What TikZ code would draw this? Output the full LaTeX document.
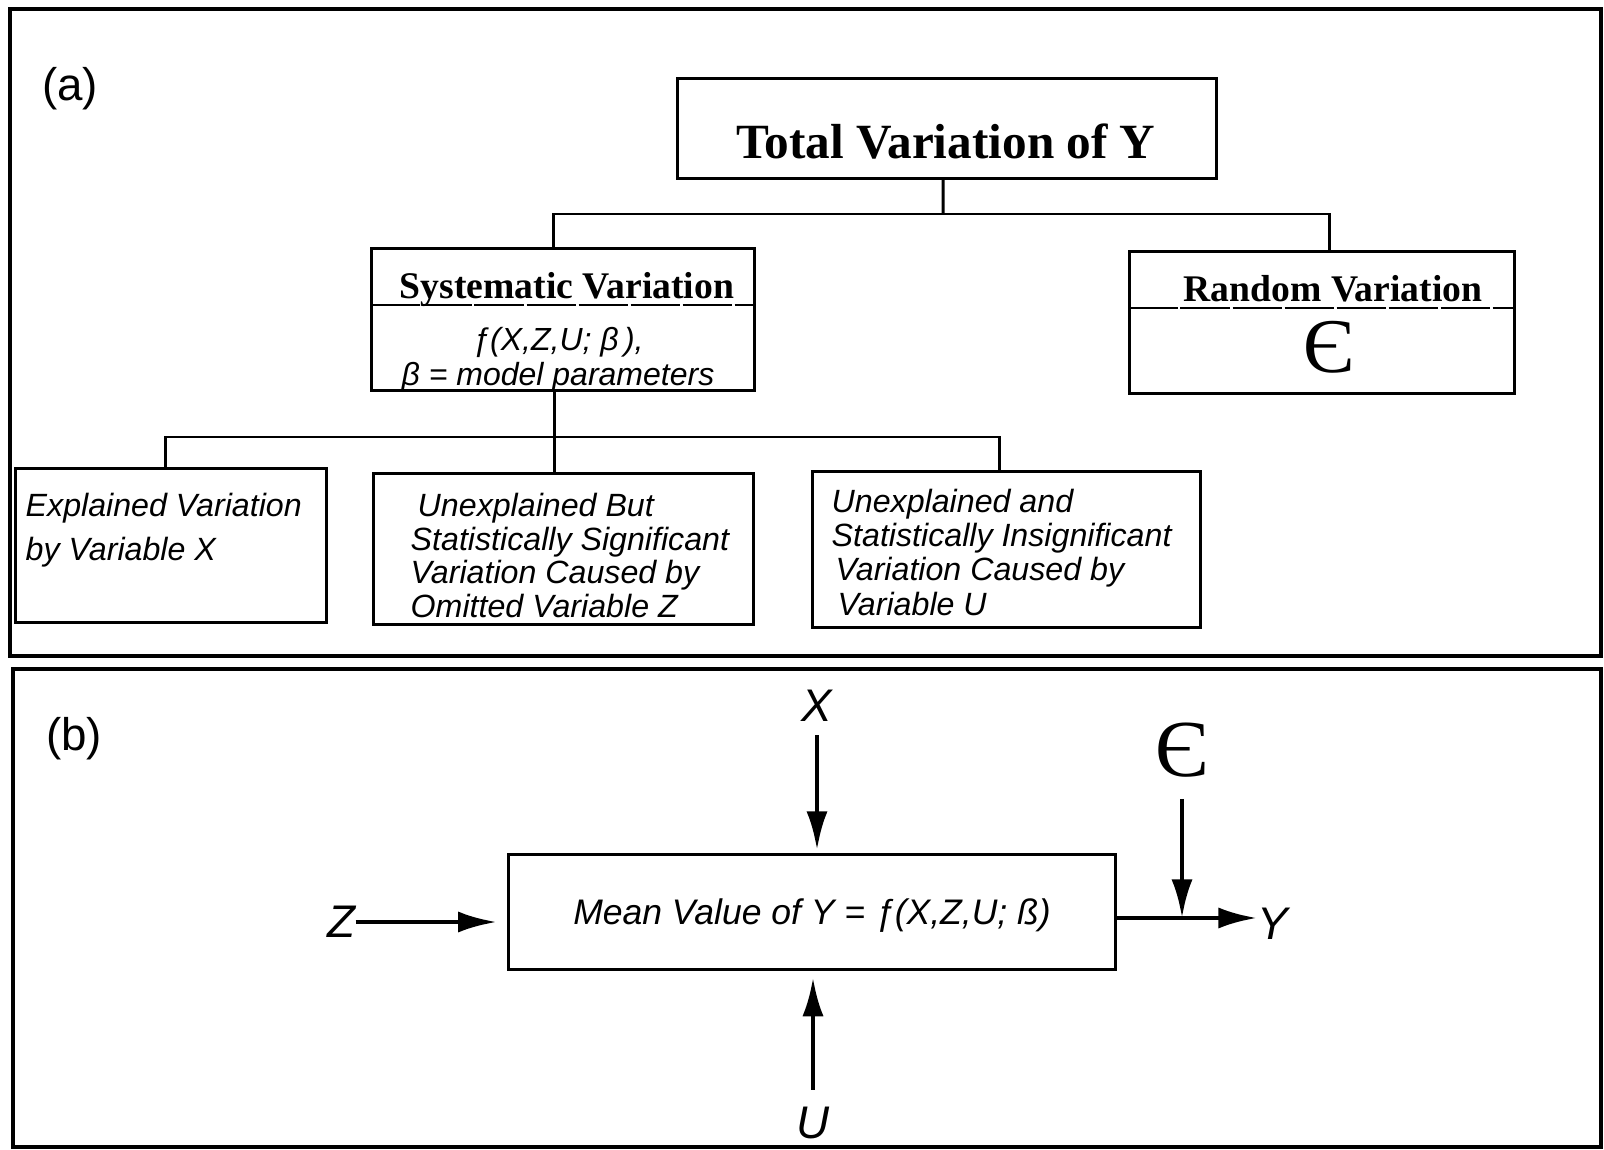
\documentclass[tikz,border=0pt]{standalone}
\usepackage{fontspec}
\setmainfont{Liberation Serif}
\setsansfont{Liberation Sans}
\usetikzlibrary{arrows.meta}
\tikzset{%
    panel/.style={line width=1.4pt},
    box/.style={draw, line width=0.85pt, inner sep=0pt},
    link/.style={line width=0.85pt},
    divider/.style={line width=0.5pt, dash pattern=on 14pt off 0.8pt},
    headtext/.style={font=\fontsize{10.7}{12}\selectfont\bfseries, inner sep=0pt, anchor=base},
    note/.style={font=\sffamily\itshape\fontsize{9.15}{9.5}\selectfont, align=left, inner sep=0pt, anchor=base west},
    varlabel/.style={font=\sffamily\itshape\fontsize{13}{15}\selectfont, inner sep=0pt},
    partlabel/.style={font=\sffamily\fontsize{13}{15}\selectfont, inner sep=0pt},
    flow/.style={line width=1.3pt, -{Latex[length=11pt,width=6pt]}}
}

\begin{document}
\begin{tikzpicture}[x=0.01cm, y=-0.01cm]
    \useasboundingbox (0,0) rectangle (1604,1149);
    \draw[panel] (10,9) rectangle (1601,656);
    \draw[panel] (13,669) rectangle (1601,1147);
    \node[partlabel] (parta) at (70,89) {(a)};
    \node[partlabel] (partb) at (74,739) {(b)};
%-----------------------------------------------
    \node[box, minimum width=5.38cm, minimum height=0.99cm] (total) at (947,128.5) {};
    \node[headtext, font=\fontsize{14}{16}\selectfont\bfseries] (totaltxt) at (946,159) {Total Variation of Y};
%-----------------------------------------------
    \node[box, minimum width=3.82cm, minimum height=1.41cm] (sys) at (563,319.5) {};
    \node[headtext] (systxt) at (567,299) {Systematic Variation};
    \draw[divider] (sys.west |- 0,305) -- (sys.east |- 0,305);
    \node[note, font=\sffamily\itshape\fontsize{9.1}{10}\selectfont, align=center, anchor=base] (sysfn) at (558,386) {ƒ(X,Z,U; β\,),\\β = model parameters};
%-----------------------------------------------
    \node[box, minimum width=3.84cm, minimum height=1.41cm] (rand) at (1322,322.5) {};
    \node[headtext] (randtxt) at (1333,301) {Random Variation};
    \draw[divider] (rand.west |- 0,308) -- (rand.east |- 0,308);
    \node[font=\fontsize{22}{24}\selectfont, inner sep=0pt, anchor=base] (eps) at (1329,373) {Є};
%-----------------------------------------------
    \coordinate (fork) at (943,214);
    \draw[link] ([xshift=-1.1pt]total.south) -- (fork);
    \draw[link] ([xshift=-2.6pt]sys.north) |- (fork) -| ([xshift=2pt]rand.north);
%-----------------------------------------------
    \node[box, minimum width=3.10cm, minimum height=1.53cm] (expl) at (171,545.5) {};
    \node[box, minimum width=3.79cm, minimum height=1.50cm] (omit) at (563.5,549) {};
    \node[box, minimum width=3.87cm, minimum height=1.55cm] (insig) at (1006.5,549.5) {};
    \coordinate (subfork) at (555,437);
    \draw[link] ([xshift=-2.4pt]sys.south) -- ([xshift=-2.4pt]sys.south |- omit.north);
    \draw[link] ([xshift=-1.7pt]expl.north) |- (subfork) -| ([xshift=-2.1pt]insig.north);
    \node[note, font=\sffamily\itshape\fontsize{9.15}{12.5}\selectfont] (expltxt) at (25,560) {Explained Variation\\by Variable X};
    \node[note] (omittxt) at (410,617) {\hspace*{2pt}Unexplained But\\Statistically Significant\\Variation Caused by\\Omitted Variable Z};
    \node[note, font=\sffamily\itshape\fontsize{9.15}{9.7}\selectfont] (insigtxt) at (831,615) {Unexplained and\\Statistically Insignificant\\\hspace*{1.1pt}Variation Caused by\\\hspace*{1.7pt}Variable U};
%-----------------------------------------------
    \node[box, minimum width=6.06cm, minimum height=1.14cm, font=\sffamily\itshape\fontsize{10.1}{12}\selectfont, text depth=0pt] (mean) at (812,912) {Mean Value of Y = ƒ(X,Z,U; ß)};
    \node[varlabel] (xin) at (817,706) {X};
    \node[varlabel] (uin) at (813,1123) {U};
    \node[varlabel] (zin) at (341,922) {Z};
    \node[varlabel] (yout) at (1273,924) {Y};
    \node[font=\fontsize{23}{25}\selectfont, inner sep=0pt] (epsb) at (1182,750) {Є};
    \coordinate (outstart) at ([yshift=-1.7pt]mean.east);
%-----------------------------------------------
    \draw[flow, shorten <=3.6pt, shorten >=1pt] (xin.south) -- (xin.south |- mean.north);
    \draw[flow, shorten <=4.7pt, shorten >=2pt] (uin.north) -- (uin.north |- mean.south);
    \draw[flow, shorten >=3pt] (zin.east) -- (zin.east -| mean.west);
    \draw[flow] (outstart) -- (outstart -| yout.west);
    \draw[flow, shorten <=6pt] (epsb.south) -- (epsb.south |- outstart);
\end{tikzpicture}
\end{document}
